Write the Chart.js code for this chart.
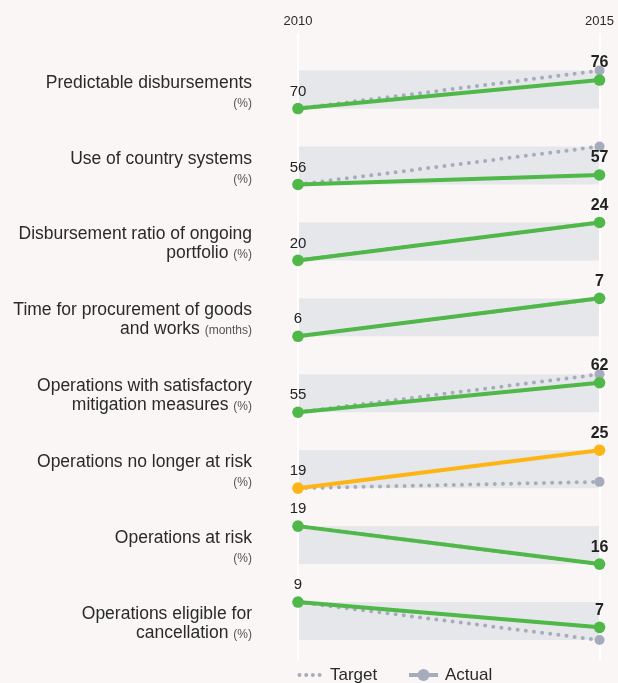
<!DOCTYPE html>
<html>
<head>
<meta charset="utf-8">
<script src="https://cdn.jsdelivr.net/npm/chart.js@4.4.1/dist/chart.umd.min.js"></script>
<style>
  html, body { margin: 0; padding: 0; background: #f9f6f5; }
  #wrap { position: relative; width: 618px; height: 683px; overflow: hidden;
          font-family: "Liberation Sans", Arial, sans-serif; color: #2a2a2a; }
  #c { position: absolute; left: 0; top: 0; }
  .lbl { position: absolute; left: 0; width: 252px; text-align: right;
         font-size: 17.5px; line-height: 19px; color: #2a2a2a; white-space: nowrap; }
  .unit { font-size: 12px; color: #555; }
  .leg { position: absolute; font-size: 17px; line-height: 20px; color: #2a2a2a; }
  .legicon { position: absolute; }
</style>
</head>
<body>
<div id="wrap">
  <canvas id="c" width="618" height="683"></canvas>
  <div id="labels"></div>
  <svg class="legicon" style="left:297px;top:670px" width="26" height="10">
    <circle cx="2.5" cy="5" r="2" fill="#a7acbc"/><circle cx="9.2" cy="5" r="2" fill="#a7acbc"/>
    <circle cx="15.9" cy="5" r="2" fill="#a7acbc"/><circle cx="22.6" cy="5" r="2" fill="#a7acbc"/>
  </svg>
  <div class="leg" style="left:330px;top:665px">Target</div>
  <svg class="legicon" style="left:409px;top:668px" width="29" height="14">
    <line x1="0" y1="7" x2="29" y2="7" stroke="#a7acbc" stroke-width="4"/>
    <circle cx="14.5" cy="7" r="6" fill="#a7acbc"/>
  </svg>
  <div class="leg" style="left:445px;top:665px">Actual</div>
</div>
<script>
// ---------------- data ----------------
const years = ['2010', '2015'];
const labelLine1 = [
  'Predictable disbursements',
  'Use of country systems',
  'Disbursement ratio of ongoing',
  'Time for procurement of goods',
  'Operations with satisfactory',
  'Operations no longer at risk',
  'Operations at risk',
  'Operations eligible for'
];
const labelLine2 = ['', '', 'portfolio', 'and works', 'mitigation measures', '', '', 'cancellation'];
const units = ['%', '%', '%', 'months', '%', '%', '%', '%'];
const baseline2010 = [70, 56, 20, 6, 55, 19, 19, 9];
const actual2015   = [76, 57, 24, 7, 62, 25, 16, 7];
const target2015   = [78, 60, 24, 7, 64, 20, 16, 6];

// ---------------- style ----------------
const GREEN = '#4fb848', YELLOW = '#fdb515', GREY = '#a7acbc', BAND = '#e6e7eb';
const highlightRows = [5];
const SLOT = 76, LAST_SLOT = 83, PAD_TOP = 24, BAND_H = 38;

const n = labelLine1.length;
const datasets = [];
const scales = {
  x: {
    type: 'category', position: 'top', offset: false,
    grid: { color: '#ffffff', lineWidth: 2, tickLength: 13, drawTicks: true },
    border: { display: false },
    ticks: { color: '#2a2a2a', font: { family: '"Liberation Sans", Arial, sans-serif', size: 13 }, padding: 4, maxRotation: 0 }
  }
};
const rowRange = [];
for (let i = 0; i < n; i++) {
  const vals = [baseline2010[i], actual2015[i], target2015[i]];
  const lo = Math.min(...vals), hi = Math.max(...vals);
  const r = hi - lo;
  const slotH = i === n - 1 ? LAST_SLOT : SLOT;
  rowRange.push({ lo, hi });
  scales['y' + i] = {
    type: 'linear', position: 'right', display: false, bounds: 'data',
    stack: 'rows', stackWeight: slotH, weight: i,
    min: lo - r * (slotH - PAD_TOP - BAND_H) / BAND_H,
    max: hi + r * PAD_TOP / BAND_H
  };
  const col = highlightRows.includes(i) ? YELLOW : GREEN;
  datasets.push({
    label: 'Target', yAxisID: 'y' + i, order: 2,
    data: [baseline2010[i], target2015[i]],
    borderColor: GREY, borderWidth: 4, borderDash: [0, 8.2], borderCapStyle: 'round',
    pointRadius: 5, pointBackgroundColor: GREY, pointBorderWidth: 0, tension: 0, clip: false
  });
  datasets.push({
    label: 'Actual', yAxisID: 'y' + i, order: 1,
    data: [baseline2010[i], actual2015[i]],
    borderColor: col, borderWidth: 4, borderCapStyle: 'round',
    pointRadius: 5.8, pointBackgroundColor: col, pointBorderWidth: 0, tension: 0, clip: false
  });
}

const bandPlugin = {
  id: 'bands',
  beforeDraw(chart) {
    const ctx = chart.ctx, xs = chart.scales.x;
    const x1 = xs.getPixelForValue(0), x2 = xs.getPixelForValue(1);
    ctx.save();
    ctx.fillStyle = BAND;
    for (let i = 0; i < n; i++) {
      const ys = chart.scales['y' + i];
      const yt = ys.getPixelForValue(rowRange[i].hi), yb = ys.getPixelForValue(rowRange[i].lo);
      ctx.fillRect(x1, yt, x2 - x1, yb - yt);
    }
    ctx.restore();
  }
};
const valuePlugin = {
  id: 'values',
  afterDatasetsDraw(chart) {
    const ctx = chart.ctx, xs = chart.scales.x;
    ctx.save();
    ctx.textAlign = 'center';
    ctx.textBaseline = 'middle';
    ctx.fillStyle = '#222';
    for (let i = 0; i < n; i++) {
      const ys = chart.scales['y' + i];
      ctx.font = '15px "Liberation Sans", Arial, sans-serif';
      ctx.fillText(String(baseline2010[i]), xs.getPixelForValue(0), ys.getPixelForValue(baseline2010[i]) - 17);
      ctx.font = 'bold 16px "Liberation Sans", Arial, sans-serif';
      ctx.fillText(String(actual2015[i]), xs.getPixelForValue(1), ys.getPixelForValue(actual2015[i]) - 17);
    }
    ctx.restore();
  }
};

const chart = new Chart(document.getElementById('c'), {
  type: 'line',
  data: { labels: years, datasets },
  options: {
    responsive: false, animation: false, events: [],
    layout: { padding: { top: 10, bottom: 22, left: 298, right: 18 } },
    plugins: { legend: { display: false }, tooltip: { enabled: false } },
    scales
  },
  plugins: [bandPlugin, valuePlugin]
});

// row labels as HTML text, aligned to the row bands
const holder = document.getElementById('labels');
for (let i = 0; i < n; i++) {
  const ys = chart.scales['y' + i];
  const bandTop = ys.getPixelForValue(rowRange[i].hi);
  const d = document.createElement('div');
  d.className = 'lbl';
  d.style.top = (bandTop + 2) + 'px';
  const unit = '<span class="unit">(' + units[i] + ')</span>';
  d.innerHTML = labelLine1[i] + '<br>' + (labelLine2[i] ? labelLine2[i] + ' ' : '') + unit;
  holder.appendChild(d);
}
</script>
</body>
</html>
